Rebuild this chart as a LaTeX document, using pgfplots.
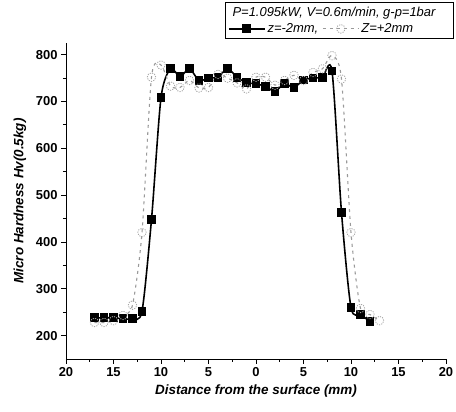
\documentclass[border=0pt]{standalone}
\usepackage{fontspec}
\setmainfont{Liberation Sans}
\usepackage{pgfplots}
\pgfplotsset{compat=1.18}

% Hardness profiles, z = -2 mm (filled squares) and z = +2 mm (open circles)
\pgfplotstableread{
x    hv
-17  238
-16  238
-15  238
-14  236
-13  236
-12  252
-11  448
-10  708
-9   770
-8   753
-7   770
-6   745
-5   750
-4   752
-3   770
-2   752
-1   740
0    738
1    732
2    722
3    738
4    730
5    746
6    750
7    752
8    765
9    463
10   260
11   245
12   230
}\zminus

\pgfplotstableread{
x    hv
-17  228
-16  228
-15  232
-14  243
-13  265
-12  420
-11  752
-10  778
-9   733
-8   730
-7   745
-6   729
-5   730
-4   758
-3   750
-2   740
-1   727
0    752
1    752
2    735
3    745
4    756
5    745
6    762
7    770
8    798
9    748
10   420
11   258
12   245
13   232
}\zplus

\begin{document}
\begin{tikzpicture}
\useasboundingbox (-66bp,-53bp) rectangle (390bp,359bp);
\begin{axis}[
  scale only axis,
  width=380bp, height=316bp,
  xmin=-20, xmax=20,
  ymin=150, ymax=825,
  axis lines*=left,
  axis line style={line width=1pt},
  xtick={-20,-15,...,20},
  xticklabels={20,15,10,5,0,5,10,15,20},
  ytick={200,300,...,800},
  minor x tick num=1,
  minor y tick num=1,
  tick align=outside,
  major tick length=5bp,
  minor tick length=3bp,
  tick style={line width=0.9pt, black},
  /pgf/number format/assume math mode=true,
  ticklabel style={font=\fontsize{13}{15}\selectfont\bfseries},
  xlabel={Distance from the surface (mm)},
  ylabel={Micro Hardness Hv(0.5kg)},
  every axis x label/.style={at={(axis description cs:0.5,-0.101)},anchor=center,
    font=\fontsize{13.5}{16}\selectfont\bfseries\itshape},
  every axis y label/.style={at={(axis description cs:-0.121,0.5)},rotate=90,anchor=center,
    font=\fontsize{13.5}{16}\selectfont\bfseries\itshape},
  legend columns=2,
  legend style={
    at={(1.021,1.130)}, anchor=north east,
    draw=black, line width=0.6pt,
    inner sep=2.5pt,
    row sep=2bp,
    cells={anchor=west, font=\fontsize{13}{15}\selectfont\itshape},
    /tikz/every even column/.append style={column sep=2bp},
  },
  legend image code/.code={%
    \draw[mark repeat=2,mark phase=2] plot coordinates {(0bp,0bp) (18bp,0bp) (36bp,0bp)};},
]
\addlegendimage{empty legend}
\addlegendentry{\makebox[0pt][l]{\hspace*{-35bp}P=1.095kW, V=0.6m/min, g-p=1bar}}
\addlegendimage{empty legend}
\addlegendentry{}

\addplot[black, line width=1.6pt, smooth, tension=0.45,
  mark=square*, mark size=3.6pt, mark options={solid, fill=black}]
  table[x=x, y=hv] {\zminus};
\addlegendentry{z=-2mm,}

\addplot[gray!80, line width=1.1pt, dash pattern=on 3pt off 4pt, smooth, tension=0.45,
  mark=o, mark size=4.3pt, mark options={solid, gray!70, line width=0.8pt, dash pattern=on 1.2pt off 1.2pt}]
  table[x=x, y=hv] {\zplus};
\addlegendentry{Z=+2mm\rule{36bp}{0pt}}
\end{axis}
\end{tikzpicture}
\end{document}
